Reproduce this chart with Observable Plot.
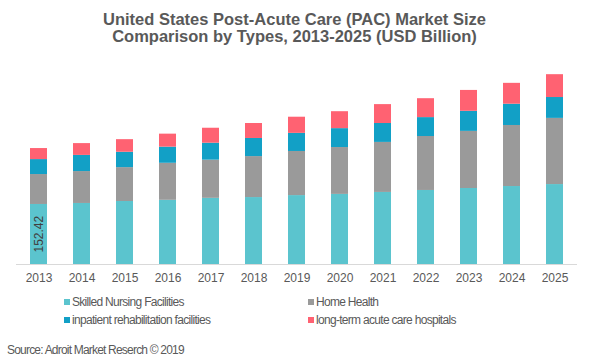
<!DOCTYPE html>
<html>
<head>
<meta charset="utf-8">
<script src="https://cdn.jsdelivr.net/npm/d3@7"></script>
<script src="https://cdn.jsdelivr.net/npm/@observablehq/plot@0.6"></script>
<style>
  html, body { margin: 0; padding: 0; background: #fff; }
  #wrap { position: relative; width: 611px; height: 362px; font-family: "Liberation Sans", Arial, sans-serif; color: #595959; overflow: hidden; }
  #title { position: absolute; left: 0; top: 11px; width: 589px; text-align: center; font-weight: bold; font-size: 16.5px; line-height: 17px; color: #595959; letter-spacing: 0px; }
  #chart { position: absolute; left: 0; top: 50px; }
  .leg { position: absolute; font-size: 12px; letter-spacing: -0.7px; white-space: nowrap; line-height: 14px; }
  .sw { display: inline-block; width: 6px; height: 6px; margin-right: 2px; vertical-align: 1px; }
  #source { position: absolute; left: 7px; top: 343px; font-size: 12px; letter-spacing: -0.8px; white-space: nowrap; line-height: 14px; }
</style>
</head>
<body>
<div id="wrap">
  <div id="title">United States Post-Acute Care (PAC) Market Size<br>Comparison by Types, 2013-2025 (USD Billion)</div>
  <div id="chart"></div>
  <div id="legend"></div>
  <div id="source">Source: Adroit Market Reserch © 2019</div>
</div>
<script>
const years = ["2013","2014","2015","2016","2017","2018","2019","2020","2021","2022","2023","2024","2025"];
const seriesNames = ["Skilled Nursing Facilities","Home Health","inpatient rehabilitation facilities","long-term acute care hospitals"];
const colors = ["#5BC4CE","#9A9A9A","#12A0C6","#FF6272"];
const skilledNursing = [152.42,155,160,163,168,170,175,178,183,188,193,198,203];
const homeHealth = [76,81,86,94,97,104,112,119,127,137,145,155,168];
const inpatientRehab = [38,41,39,41,43,46,46,48,48,48,51,54,53];
const ltach = [28,30,32,33,38,38,41,43,48,48,53,53,58];
const labelValue = "152.42";

const allSeries = [skilledNursing, homeHealth, inpatientRehab, ltach];
const data = [];
allSeries.forEach((vals, si) => {
  vals.forEach((v, i) => data.push({year: years[i], type: seriesNames[si], value: v}));
});

const chart = Plot.plot({
  width: 611,
  height: 245,
  marginLeft: 16,
  marginRight: 34,
  marginTop: 10,
  marginBottom: 31,
  style: {fontFamily: "Liberation Sans, Arial, sans-serif", fontSize: "12px", color: "#595959", background: "#fff"},
  x: {domain: years, paddingInner: 0.6, paddingOuter: 0.3, label: null, tickSize: 0, tickPadding: 9},
  y: {domain: [0, 518], axis: null},
  color: {domain: seriesNames, range: colors},
  marks: [
    Plot.barY(data, {x: "year", y: "value", fill: "type", order: seriesNames}),
    Plot.ruleY([0], {stroke: "#D9D9D9", strokeWidth: 1}),
    Plot.text([{year: years[0], value: 0, label: labelValue}], {
      x: "year", y: "value", text: "label", rotate: -90, textAnchor: "start",
      dy: -12, fill: "#404040", fontSize: 12
    })
  ]
});
document.getElementById("chart").appendChild(chart);

const legendPos = [[64, 295], [308, 295], [64, 313], [308, 313]];
const legend = document.getElementById("legend");
seriesNames.forEach((n, i) => {
  const d = document.createElement("div");
  d.className = "leg";
  d.style.left = legendPos[i][0] + "px";
  d.style.top = legendPos[i][1] + "px";
  d.innerHTML = `<span class="sw" style="background:${colors[i]}"></span>${n}`;
  legend.appendChild(d);
});
</script>
</body>
</html>
